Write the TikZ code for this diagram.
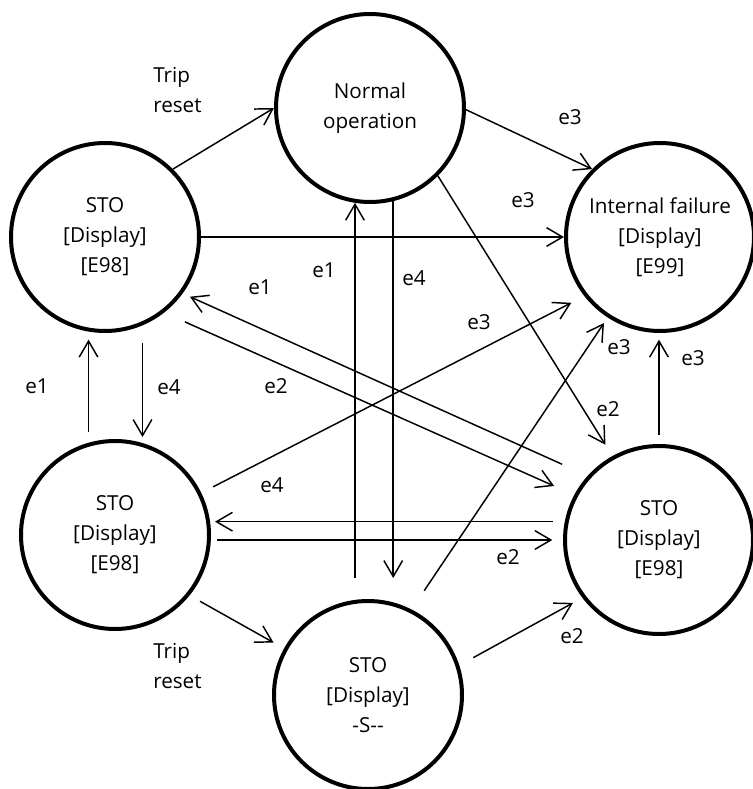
\documentclass[tikz,border=0pt]{standalone}
\usepackage{fontspec}
\setmainfont{Open Sans}
\usetikzlibrary{arrows.meta}

\begin{document}
\begin{tikzpicture}[
  x=0.75pt, y=-0.75pt,
  every node/.style={font=\fontsize{15.5}{22.5}\selectfont},
  state/.style={draw, circle, line width=3pt, minimum size=141pt,
                inner sep=0pt, align=center},
  arr/.style={-{Straight Barb[length=12pt, width=14pt]}, line width=1.1pt},
  lbl/.style={inner sep=0pt},
]
  \useasboundingbox (0,0) rectangle (753,789);

  % states
  \node[state] (nrm) at (370,108) {Normal\\operation};
  \node[state] (tl)  at (105,237) {STO\\{}[Display]\\{}[E98]};
  \node[state] (ifl) at (660,237) {Internal failure\\{}[Display]\\{}[E99]};
  \node[state] (bl)  at (115,535) {STO\\{}[Display]\\{}[E98]};
  \node[state] (br)  at (659,540) {STO\\{}[Display]\\{}[E98]};
  \node[state] (bc)  at (368,695) {STO\\{}[Display]\\-S-{}-};

  % transitions
  \draw[arr] (tl.45) -- (nrm.180);
  \draw[arr] (nrm.-1) -- (ifl.135);
  \draw[arr] (tl.east) -- (ifl.west);
  \draw[arr, shorten >=15.75pt] (nrm.-76) -- (nrm.-76 |- bc.north);
  \draw[arr, shorten <=15.75pt] (nrm.-99 |- bc.north) -- (nrm.-99);
  \draw[arr, shorten >=10pt] (nrm.-45) -- (br.119);
  \draw[arr, shorten <=21pt, shorten >=6pt] (br.138) -- (tl.-36);
  \draw[arr, shorten <=17pt, shorten >=16.5pt] (tl.-52) -- (br.152);
  \draw[arr, shorten <=10pt, shorten >=11pt] (bl.26) -- (ifl.-142);
  \draw[arr, shorten <=17pt, shorten >=5pt] (bc.63) -- (ifl.-123);
  \draw[arr, shorten <=7pt, shorten >=5pt] (br.north) -- (br.north |- ifl.south);
  \draw[arr, shorten <=8pt, shorten >=5pt] (bl.106) -- (bl.106 |- tl.south);
  \draw[arr, shorten <=13.5pt, shorten >=1.5pt] (tl.-67) -- (tl.-67 |- bl.north);
  \draw[arr, shorten <=9pt, shorten >=3pt] (br.169) -- (br.169 -| bl.east);
  \draw[arr, shorten <=4.5pt, shorten >=8pt] (bl.east |- br.west) -- (br.west);
  \draw[arr, shorten <=9pt, shorten >=9pt] (bl.-39) -- (bc.151);
  \draw[arr, shorten <=12pt, shorten >=8pt] (bc.18) -- (br.-143);

  % event labels
  \node[lbl, anchor=west, align=left] (trip1) at (153,90) {Trip\\reset};
  \node[lbl, anchor=west, align=left] (trip2) at (153,666) {Trip\\reset};
  \node[lbl] (e3a) at (570,117) {e3};
  \node[lbl] (e3b) at (523,200) {e3};
  \node[lbl] (e1a) at (324,270) {e1};
  \node[lbl] (e4a) at (414,278) {e4};
  \node[lbl] (e1b) at (260,287) {e1};
  \node[lbl] (e3c) at (479,322) {e3};
  \node[lbl] (e3d) at (619,347) {e3};
  \node[lbl] (e3e) at (693,358) {e3};
  \node[lbl] (e1c) at (37,386) {e1};
  \node[lbl] (e4b) at (169,387) {e4};
  \node[lbl] (e2a) at (276,386) {e2};
  \node[lbl] (e2b) at (608,409) {e2};
  \node[lbl] (e4c) at (272,485) {e4};
  \node[lbl] (e2c) at (508,557) {e2};
  \node[lbl] (e2d) at (572,636) {e2};
\end{tikzpicture}
\end{document}
